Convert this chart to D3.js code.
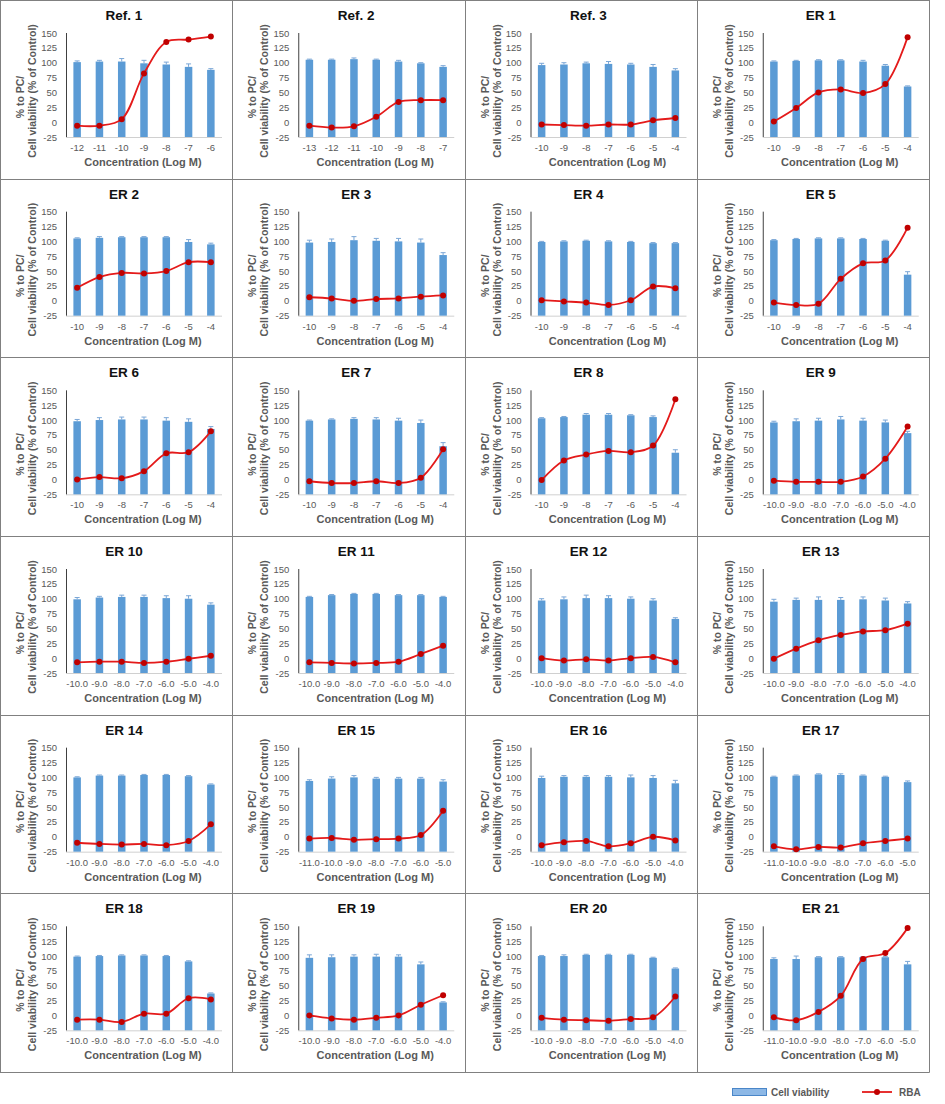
<!DOCTYPE html>
<html><head><meta charset="utf-8">
<script src="https://cdn.jsdelivr.net/npm/d3@7"></script>
<style>
html,body{margin:0;padding:0;background:#fff;}
svg{display:block;font-family:"Liberation Sans",Arial,sans-serif;}
</style></head>
<body><svg id="c" width="945" height="1104"></svg>
<script>
// ---------- DATA ----------
const panelTitles = ["Ref. 1","Ref. 2","Ref. 3","ER 1","ER 2","ER 3","ER 4","ER 5","ER 6","ER 7","ER 8","ER 9",
  "ER 10","ER 11","ER 12","ER 13","ER 14","ER 15","ER 16","ER 17","ER 18","ER 19","ER 20","ER 21"];
const ticksRef1 = ["-12","-11","-10","-9","-8","-7","-6"];
const ticksRef2 = ["-13","-12","-11","-10","-9","-8","-7"];
const ticksInt10 = ["-10","-9","-8","-7","-6","-5","-4"];
const ticksDec10 = ["-10.0","-9.0","-8.0","-7.0","-6.0","-5.0","-4.0"];
const ticksDec11 = ["-11.0","-10.0","-9.0","-8.0","-7.0","-6.0","-5.0"];
const panelTicks = [ticksRef1,ticksRef2,ticksInt10,ticksInt10,ticksInt10,ticksInt10,ticksInt10,ticksInt10,
  ticksInt10,ticksInt10,ticksInt10,ticksDec10,ticksDec10,ticksDec10,ticksDec10,ticksDec10,
  ticksDec10,ticksDec11,ticksDec10,ticksDec11,ticksDec10,ticksDec10,ticksDec10,ticksDec11];
const yTicks = [-25,0,25,50,75,100,125,150];
const viability = [
  [101,102,102,99,97,93,88],
  [105,105,106,105,102,99,93],
  [96,97,99,98,97,93,87],
  [102,103,104,104,102,95,60],
  [105,106,107,107,107,99,95],
  [98,99,102,101,100,98,77],
  [99,100,101,100,99,97,97],
  [102,104,105,105,104,101,44],
  [98,100,101,101,99,97,85],
  [99,101,102,101,99,95,56],
  [103,105,109,109,108,105,45],
  [96,98,99,101,99,96,78],
  [99,102,103,103,101,100,90],
  [103,106,108,108,106,106,103],
  [97,99,101,101,100,97,66],
  [95,98,98,98,99,97,92],
  [100,103,103,104,104,102,88],
  [94,98,100,98,98,98,93],
  [99,101,101,101,100,99,90],
  [101,103,105,104,103,101,92],
  [99,100,101,101,100,91,37],
  [97,98,99,99,99,86,22],
  [100,100,102,102,102,97,79],
  [95,95,98,98,98,98,86]
];
const viabilityErr = [
  [2,2,5,5,4,5,2],
  [1,1,2,1,2,1,2],
  [3,3,2,4,2,4,3],
  [1,1,1,1,2,2,1],
  [1,2,1,1,1,4,2],
  [4,5,6,4,5,6,4],
  [1,1,1,1,1,1,1],
  [1,1,1,1,1,1,5],
  [3,4,4,4,5,5,4],
  [1,1,2,3,4,5,6],
  [1,1,2,2,1,2,5],
  [2,4,4,5,4,4,3],
  [3,2,3,3,4,5,3],
  [1,1,1,1,1,1,1],
  [3,4,5,4,3,3,2],
  [4,3,5,4,4,4,3],
  [1,1,1,1,1,1,1],
  [2,3,3,2,2,2,3],
  [3,2,2,2,4,4,5],
  [1,1,1,2,1,1,2],
  [1,1,1,1,1,1,1],
  [5,4,3,4,3,4,1],
  [1,2,1,1,1,1,1],
  [2,5,1,1,1,1,5]
];
const rba = [
  [-6,-6,5,82,135,139,144],
  [-6,-9,-7,9,34,37,37],
  [-4,-5,-6,-4,-4,3,7],
  [1,24,50,55,49,64,143],
  [22,40,47,46,50,65,65],
  [6,4,0,3,4,7,9],
  [1,-1,-3,-7,1,24,21],
  [-3,-7,-5,37,63,68,123],
  [0,4,2,14,44,46,81],
  [-3,-6,-6,-3,-6,3,51],
  [-1,32,42,48,46,57,135],
  [-2,-4,-4,-4,5,35,89],
  [-7,-6,-6,-8,-6,-1,4],
  [-7,-8,-9,-8,-6,7,21],
  [0,-4,-2,-4,0,2,-7],
  [-1,16,30,39,45,47,58],
  [-10,-12,-13,-12,-14,-7,21],
  [-3,-2,-5,-4,-3,3,44],
  [-14,-9,-7,-16,-11,0,-6],
  [-16,-21,-17,-18,-11,-7,-3],
  [-7,-7,-11,3,3,29,27],
  [0,-5,-7,-4,0,18,34],
  [-4,-7,-8,-9,-6,-3,32],
  [-3,-8,6,33,95,105,147]
];
const legendLabels = ["Cell viability","RBA"];

// ---------- DRAW ----------
const svg = d3.select("#c");
const cols = 4, rows = 6;
const gridW = 929, gridH = 1072;
const cw = gridW / cols, ch = gridH / rows;
const barColor = "#5b9bd5", errColor = "#7aa6d6", lineColor = "#e41a1a", markColor = "#c00000";
const axisText = "#595959";

panelTitles.forEach((title, i) => {
  const c = i % cols, r = Math.floor(i / cols);
  const g = svg.append("g").attr("transform", `translate(${c * cw},${r * ch})`);
  const x = d3.scaleBand().domain(d3.range(7)).range([66, 222]);
  const y = d3.scaleLinear().domain([-25, 150]).range([137, 33]);
  const bw = 7.5;

  g.append("text").attr("x", 124).attr("y", 20).attr("text-anchor", "middle")
    .attr("font-size", 13.5).attr("font-weight", "bold").attr("fill", "#111").text(title);

  g.selectAll(".yt").data(yTicks).join("text")
    .attr("x", 57).attr("y", d => y(d) + 3.5).attr("text-anchor", "end")
    .attr("font-size", 9.5).attr("fill", axisText).text(d => d);

  g.append("line").attr("x1", 66).attr("x2", 222).attr("y1", y(-25) + 0.5).attr("y2", y(-25) + 0.5)
    .attr("stroke", "#d0d0d0").attr("stroke-width", 1);
  g.append("line").attr("x1", 66.5).attr("x2", 66.5).attr("y1", y(150)).attr("y2", y(-25))
    .attr("stroke", "#404040").attr("stroke-width", 1);

  const vals = viability[i], errs = viabilityErr[i];
  g.selectAll(".bar").data(vals).join("rect")
    .attr("x", (d, j) => x(j) + x.bandwidth() / 2 - bw / 2)
    .attr("y", d => y(d)).attr("width", bw).attr("height", d => y(-25) - y(d))
    .attr("fill", barColor);
  vals.forEach((d, j) => {
    const cx = x(j) + x.bandwidth() / 2;
    const e = errs[j];
    g.append("line").attr("x1", cx).attr("x2", cx).attr("y1", y(d)).attr("y2", y(d + e))
      .attr("stroke", errColor).attr("stroke-width", 1);
    g.append("line").attr("x1", cx - 2.5).attr("x2", cx + 2.5).attr("y1", y(d + e)).attr("y2", y(d + e))
      .attr("stroke", errColor).attr("stroke-width", 1);
  });

  const line = d3.line().x((d, j) => x(j) + x.bandwidth() / 2).y(d => y(d))
    .curve(d3.curveCatmullRom.alpha(0.5));
  g.append("path").datum(rba[i]).attr("d", line).attr("fill", "none")
    .attr("stroke", lineColor).attr("stroke-width", 1.8);
  g.selectAll(".pt").data(rba[i]).join("circle")
    .attr("cx", (d, j) => x(j) + x.bandwidth() / 2).attr("cy", d => y(d)).attr("r", 3)
    .attr("fill", markColor);

  g.selectAll(".xt").data(panelTicks[i]).join("text")
    .attr("x", (d, j) => x(j) + x.bandwidth() / 2).attr("y", 151).attr("text-anchor", "middle")
    .attr("font-size", 9.5).attr("fill", axisText).text(d => d);

  g.append("text").attr("x", 143).attr("y", 166).attr("text-anchor", "middle")
    .attr("font-size", 11).attr("font-weight", "bold").attr("fill", axisText).text("Concentration (Log M)");
  g.append("text").attr("transform", "translate(24,97) rotate(-90)").attr("text-anchor", "middle")
    .attr("font-size", 10.5).attr("font-weight", "bold").attr("fill", axisText).text("% to PC/");
  g.append("text").attr("transform", "translate(36,91) rotate(-90)").attr("text-anchor", "middle")
    .attr("font-size", 10.5).attr("font-weight", "bold").attr("fill", axisText).text("Cell viability (% of Control)");
});

const borderColor = "#808080";
for (let c = 0; c <= cols; c++) {
  const xx = Math.round(c * cw) + 0.5;
  svg.append("line").attr("x1", xx).attr("x2", xx).attr("y1", 0).attr("y2", gridH + 0.5)
    .attr("stroke", borderColor).attr("stroke-width", 1);
}
for (let r = 0; r <= rows; r++) {
  const yy = Math.round(r * ch) + 0.5;
  svg.append("line").attr("x1", 0).attr("x2", gridW + 0.5).attr("y1", yy).attr("y2", yy)
    .attr("stroke", borderColor).attr("stroke-width", 1);
}

const lg = svg.append("g");
lg.append("rect").attr("x", 732.5).attr("y", 1088.5).attr("width", 34).attr("height", 7)
  .attr("fill", "#8db8e6").attr("stroke", "#4a86c8").attr("stroke-width", 1);
lg.append("text").attr("x", 771).attr("y", 1096).attr("font-size", 10).attr("font-weight", "bold")
  .attr("fill", axisText).text(legendLabels[0]);
lg.append("line").attr("x1", 862).attr("x2", 892).attr("y1", 1092).attr("y2", 1092)
  .attr("stroke", lineColor).attr("stroke-width", 1.8);
lg.append("circle").attr("cx", 877).attr("cy", 1092).attr("r", 3).attr("fill", markColor);
lg.append("text").attr("x", 899).attr("y", 1096).attr("font-size", 10).attr("font-weight", "bold")
  .attr("fill", axisText).text(legendLabels[1]);
</script></body></html>
